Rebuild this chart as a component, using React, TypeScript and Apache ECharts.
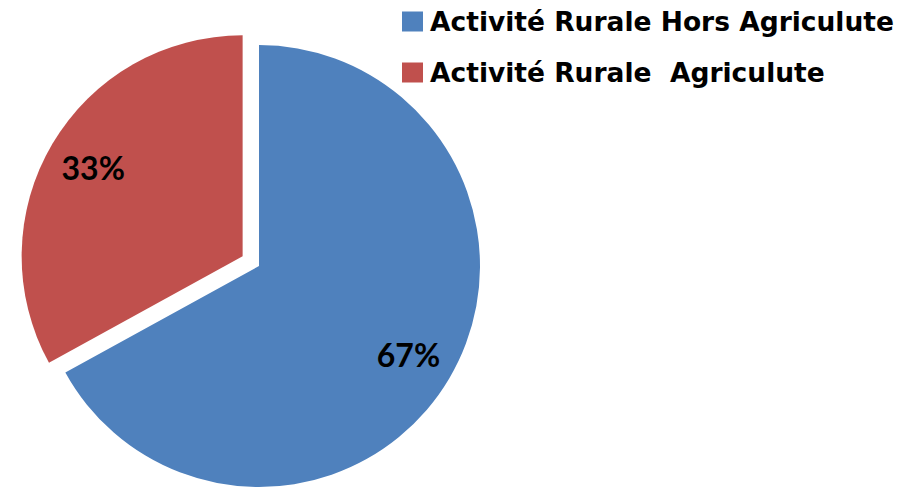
import React, { useEffect, useRef } from "react";
import * as echarts from "echarts";

const categories = ["Activité Rurale Hors Agriculute", "Activité Rurale  Agriculute"];
const values = [67, 33];
const colors = ["#4F81BD", "#C0504D"];
const explodedIndex = 1;

export default function App() {
  const ref = useRef<HTMLDivElement>(null);
  useEffect(() => {
    document.body.style.margin = "0";
    if (!ref.current) return;
    const chart = echarts.init(ref.current, undefined, { renderer: "svg" });
    const center = [259, 266];
    const R = 221;
    const offset = 19;
    const mainData = categories.map((name, i) => ({
      name,
      value: values[i],
      selected: i === explodedIndex,
      itemStyle: { color: colors[i], borderWidth: 0 },
      select: { itemStyle: { color: colors[i], borderWidth: 0 } },
    }));
    const labelData = categories.map((name, i) => ({
      name,
      value: values[i],
      selected: i === explodedIndex,
      itemStyle: { color: "rgba(0,0,0,0)", borderWidth: 0 },
      select: { itemStyle: { color: "rgba(0,0,0,0)", borderWidth: 0 } },
    }));
    chart.setOption({
      animation: false,
      legend: {
        orient: "vertical",
        left: 402,
        top: 8,
        padding: 0,
        icon: "rect",
        itemWidth: 21,
        itemHeight: 20,
        itemGap: 24,
        selectedMode: false,
        data: categories,
        textStyle: {
          fontFamily: "DejaVu Sans",
          fontWeight: "bold",
          fontSize: 26.5,
          color: "#000",
          padding: [0, 0, 0, 2],
        },
      },
      series: [
        {
          type: "pie",
          center,
          radius: [0, R],
          startAngle: 90,
          clockwise: true,
          selectedMode: "single",
          selectedOffset: offset,
          silent: true,
          label: { show: false },
          labelLine: { show: false },
          emphasis: { disabled: true },
          data: mainData,
        },
        {
          type: "pie",
          center,
          radius: [R * 0.544, R],
          startAngle: 90,
          clockwise: true,
          selectedMode: "single",
          selectedOffset: offset,
          silent: true,
          z: 3,
          label: {
            show: true,
            position: "inside",
            formatter: "{c}%",
            fontFamily: "Lato",
            fontWeight: "bold",
            fontSize: 32,
            color: "#000",
          },
          labelLine: { show: false },
          emphasis: { disabled: true },
          data: labelData,
        },
      ],
    });
    return () => chart.dispose();
  }, []);
  return <div ref={ref} style={{ width: 912, height: 488 }} />;
}
